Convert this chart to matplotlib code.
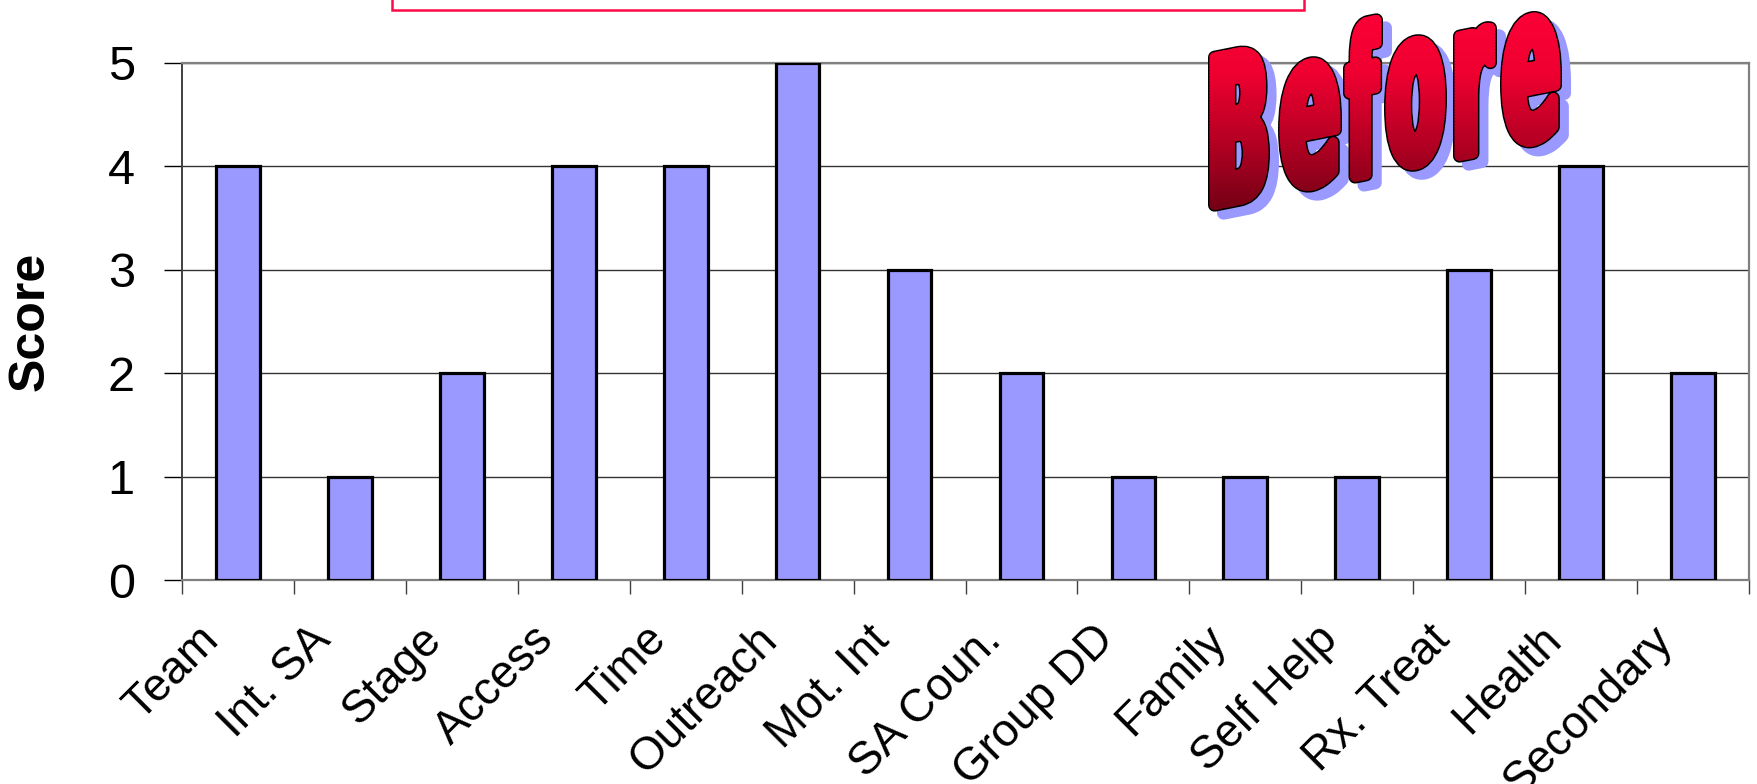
import numpy as np
import matplotlib
matplotlib.use("Agg")
import matplotlib.pyplot as plt
from matplotlib import font_manager as fm
from matplotlib.textpath import TextPath
from matplotlib.path import Path
from matplotlib.patches import PathPatch, Rectangle
from matplotlib.transforms import ScaledTranslation, Bbox, TransformedBbox
from matplotlib.colors import LinearSegmentedColormap

plt.rcParams["font.family"] = ["Liberation Sans", "DejaVu Sans"]

categories = ["Team", "Int. SA", "Stage", "Access", "Time", "Outreach", "Mot. Int",
              "SA Coun.", "Group DD", "Family", "Self Help", "Rx. Treat", "Health", "Secondary"]
scores = [4, 1, 2, 4, 4, 5, 3, 2, 1, 1, 1, 3, 4, 2]
yticks = [0, 1, 2, 3, 4, 5]

W, H = 1757, 784
PT = 72 / 100  # points per pixel at dpi 100

fig = plt.figure(figsize=(W / 100, H / 100), dpi=100)
ax = fig.add_axes([182 / W, 1 - 580 / H, (1749 - 182) / W, (580 - 62.7) / H])

x = np.arange(len(categories))
ax.bar(x, scores, width=0.39, color="#9999FF", edgecolor="black", linewidth=2.3, zorder=3)
ax.set_xlim(-0.5, len(categories) - 0.5)
ax.set_ylim(0, 5)
ax.set_yticks(yticks)
ax.set_yticklabels([str(v) for v in yticks], fontsize=35)
ax.yaxis.grid(True, color="#333333", lw=1)
ax.set_axisbelow(True)
ax.tick_params(axis="y", length=13, width=1, color="black", pad=21)

# labels centred under bars, boundary ticks between categories
ax.set_xticks(x)
ax.set_xticklabels(categories, rotation=45, ha="right", va="top",
                   rotation_mode="anchor", fontsize=33)
ax.set_xticks(np.arange(len(categories) + 1) - 0.5, minor=True)
ax.tick_params(axis="x", which="major", length=0, pad=27)
ax.tick_params(axis="x", which="minor", length=10, width=1, color="#404040")
shift = ScaledTranslation(-0.42, 0, fig.dpi_scale_trans)
for lab in ax.get_xticklabels():
    lab.set_transform(lab.get_transform() + shift)

for side in ["top", "right", "bottom"]:
    ax.spines[side].set_color("#808080")
    ax.spines[side].set_linewidth(1.6)
ax.spines["left"].set_color("#404040")
ax.spines["left"].set_linewidth(1.4)

ax.set_ylabel("Score", fontsize=36, fontweight="bold", va="center")
ax.yaxis.set_label_coords((31 - 182) / (1749 - 182), 0.5)

# overlay in pixel coordinates for the header box and the word art
ov = fig.add_axes([0, 0, 1, 1], zorder=5)
ov.set_xlim(0, W)
ov.set_ylim(H, 0)
ov.axis("off")
ov.add_patch(Rectangle((392, -20), 1304 - 392, 30, fill=False,
                       edgecolor="#FF0A46", lw=1.8))


def pick_font():
    for fam in ["DejaVu Sans", "Liberation Sans"]:
        fp = fm.FontProperties(family=fam, weight="bold")
        try:
            fm.findfont(fp, fallback_to_default=False)
            return fp
        except ValueError:
            pass
    return fm.FontProperties(weight="bold")


word = "Before"
x0s = [1208, 1278, 1343, 1384, 1453, 1500]
x1s = [1270, 1342, 1383, 1447, 1497, 1562]
heights = [161, 136, 166, 137, 136, 137]
base_x, base_y, slope = 1208, 213, 0.2
fat = 10.0     # stroke used to thicken the glyphs, px
ol = 1.6       # black outline, px
m = fat / 2 + ol

fp = pick_font()
paths = []
for ch, a, b, h in zip(word, x0s, x1s, heights):
    tp = TextPath((0, 0), ch, size=1, prop=fp)
    ext = tp.get_extents()
    v = tp.vertices.copy()
    bx0, bx1, hh = a + m, b - m, h - 2 * m
    X = bx0 + (v[:, 0] - ext.x0) / ext.width * (bx1 - bx0)
    up = (v[:, 1] - ext.y0) / ext.height * hh
    Y = base_y - m - slope * (X - base_x) - up
    paths.append(Path(np.column_stack([X, Y]), tp.codes))
glyphs = Path.make_compound_path(*paths)

shadow = Path(glyphs.vertices + np.array([9, 8]), glyphs.codes)
ov.add_patch(PathPatch(shadow, facecolor="#9999FF", edgecolor="#9999FF",
                       lw=(fat + 2 * ol) * PT, joinstyle="round", zorder=1))
ov.add_patch(PathPatch(glyphs, facecolor="black", edgecolor="black",
                       lw=(fat + 2 * ol) * PT, joinstyle="round", zorder=2))

cmap = LinearSegmentedColormap.from_list("wa", ["#FF0038", "#EE0030", "#B00022", "#6A0012"])
ytop, ybot, nb = 0, 222, 74
edges = np.linspace(ytop, ybot, nb + 1)
for i in range(nb):
    c = cmap(i / (nb - 1))
    pp = PathPatch(glyphs, facecolor=c, edgecolor=c, lw=fat * PT,
                   joinstyle="round", zorder=3)
    ov.add_patch(pp)
    pp.set_clip_box(TransformedBbox(Bbox([[0, edges[i] - 0.6], [W, edges[i + 1] + 0.6]]),
                                    ov.transData))

fig.savefig("out.png", dpi=100)
